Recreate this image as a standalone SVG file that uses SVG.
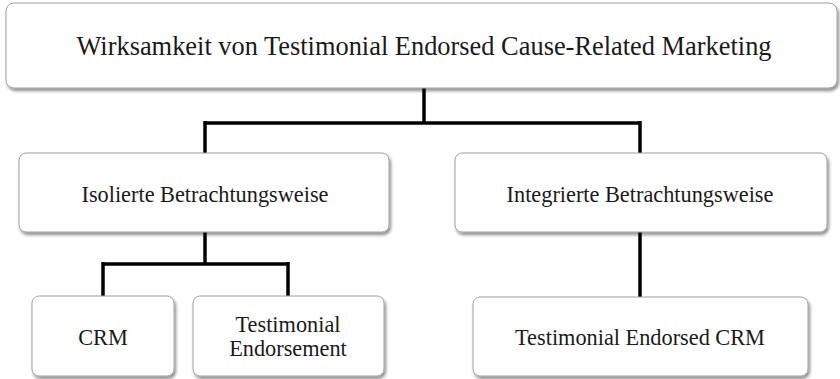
<svg xmlns="http://www.w3.org/2000/svg" width="840" height="379" viewBox="0 0 840 379">
<defs>
<filter id="sh" x="-5%" y="-10%" width="115%" height="130%">
<feDropShadow dx="1.5" dy="2.5" stdDeviation="1.5" flood-color="#000" flood-opacity="0.45"/>
</filter>
</defs>
<style>
.box{fill:#fff;stroke:#a0a0a0;stroke-width:1;filter:url(#sh)}
.t{font-family:'Liberation Serif','Times New Roman',serif;fill:#1a1a1a;text-anchor:middle}
.c{fill:none;stroke:#000;stroke-width:3.5;stroke-linejoin:miter}
</style>
<rect width="840" height="379" fill="#fff"/>
<g id="connectors">
<path class="c" d="M424,88 V123 M205,123 H640 M205,121 V153 M640,121 V153"/>
<path class="c" d="M205,232 V264 M103,264 H289 M103,262 V296 M288,262 V296"/>
<path class="c" d="M640,232 V297"/>
</g>
<g id="root">
<rect class="box" x="6" y="3" width="831" height="85" rx="8"/>
<text class="t" x="424" y="55" font-size="26.4">Wirksamkeit von Testimonial Endorsed Cause-Related Marketing</text>
</g>
<g id="isoliert">
<rect class="box" x="19" y="153" width="370" height="79" rx="7"/>
<text class="t" x="205" y="202" font-size="22.3">Isolierte Betrachtungsweise</text>
</g>
<g id="integriert">
<rect class="box" x="455" y="153" width="372" height="79" rx="7"/>
<text class="t" x="640" y="202" font-size="22.3">Integrierte Betrachtungsweise</text>
</g>
<g id="crm">
<rect class="box" x="32" y="296" width="142" height="80" rx="7"/>
<text class="t" x="103" y="345" font-size="22.3">CRM</text>
</g>
<g id="testimonial">
<rect class="box" x="193" y="296" width="191" height="80" rx="7"/>
<text class="t" x="288" y="332" font-size="22.3">Testimonial</text>
<text class="t" x="288" y="356" font-size="22.3">Endorsement</text>
</g>
<g id="tecrm">
<rect class="box" x="473" y="297" width="335" height="79" rx="7"/>
<text class="t" x="640" y="345" font-size="22.3">Testimonial Endorsed CRM</text>
</g>
</svg>
